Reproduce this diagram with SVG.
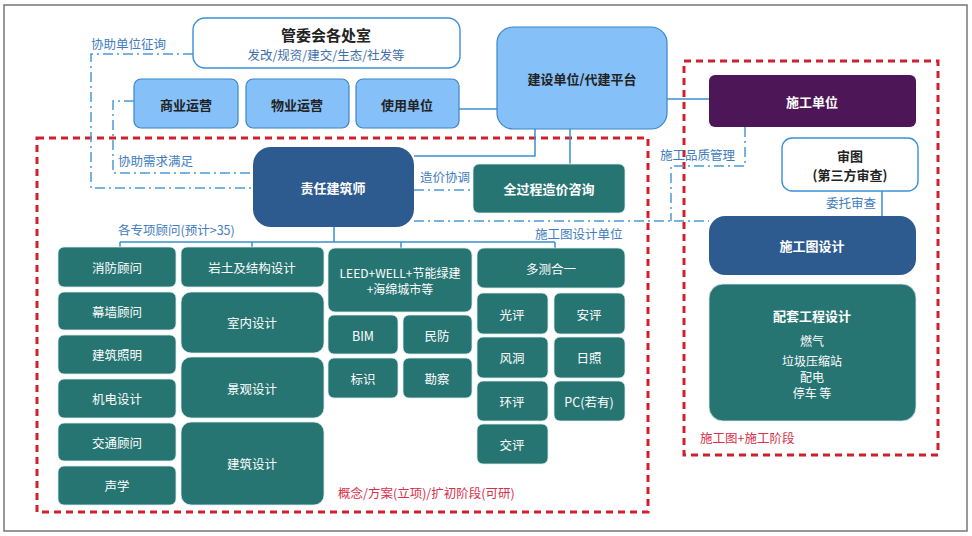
<svg xmlns="http://www.w3.org/2000/svg" width="972" height="536" viewBox="0 0 972 536">
<style>
text{font-family:"Noto Sans CJK SC","Liberation Sans",sans-serif;text-anchor:middle;dominant-baseline:central}
.lb{fill:#85c0f8;stroke:#3a86c8;stroke-width:1.2}
.wh{fill:#fff;stroke:#3a90d8;stroke-width:1.4}
.tl{fill:#277573;stroke:#d8ecec;stroke-width:0.8}
.db{fill:#2e5b8f}
.pu{fill:#4d1757}
.tw{fill:#fff;font-size:12.5px}
.ts{fill:#fff;font-size:12px}
.tb{font-weight:bold;font-size:13px;fill:#222}
.bw{font-weight:bold;font-size:13px;fill:#fff}
.lab{fill:#3f7cc0;font-size:12.5px;text-anchor:start}
.red{fill:#d9304a;font-size:12.5px;text-anchor:start}
.zone{fill:none;stroke:#d0202e;stroke-width:3;stroke-dasharray:7 5}
.sol{fill:none;stroke:#3a90d0;stroke-width:1.5}
.dd{fill:none;stroke:#4a9ad8;stroke-width:1.5;stroke-dasharray:10 4 2 4}
</style>
<rect x="4" y="5" width="963" height="526" fill="#fff" stroke="#777" stroke-width="1.5"/>
<g id="zones">
<rect class="zone" x="37" y="138" width="611" height="374"/>
<rect class="zone" x="684" y="61" width="254" height="394"/>
</g>
<g id="connectors">
<path class="sol" d="M459 109H497"/>
<path class="sol" d="M667 99H709"/>
<path class="sol" d="M535 129V156H414"/>
<path class="sol" d="M570 129V164"/>
<path class="sol" d="M882 191V216"/>
<path class="sol" d="M334 227V242M120 242H555M120 242V254M252 242V254M401 242V254M555 242V254"/>
<path class="dd" d="M193 54H91V188H253"/>
<path class="dd" d="M134 101H113V173H253"/>
<path class="dd" d="M414 190H473"/>
<path class="dd" d="M414 221H709"/>
<path class="dd" d="M745 127V166H671V221"/>
</g>
<g id="labels">
<text class="lab" x="91" y="43">协助单位征询</text>
<text class="lab" x="118" y="160">协助需求满足</text>
<text class="lab" x="420" y="176">造价协调</text>
<text class="lab" x="535" y="233">施工图设计单位</text>
<text class="lab" x="660" y="154">施工品质管理</text>
<text class="lab" x="826" y="202">委托审查</text>
<text class="lab" x="118" y="229">各专项顾问(预计&gt;35)</text>
<text class="red" x="338" y="492">概念/方案(立项)/扩初阶段(可研)</text>
<text class="red" x="700" y="437">施工图+施工阶段</text>
</g>
<g id="n-gwh"><rect class="wh" x="193" y="18" width="267" height="50" rx="12"/><text x="326" y="34" font-size="15" font-weight="bold" fill="#222">管委会各处室</text><text x="326" y="54" font-size="12.5" fill="#3f6fa8">发改/规资/建交/生态/社发等</text></g>
<g id="n-sy"><rect class="lb" x="134" y="79" width="104" height="49" rx="7"/><text class="tb" x="186" y="104">商业运营</text></g>
<g id="n-wy"><rect class="lb" x="246" y="79" width="103" height="49" rx="7"/><text class="tb" x="297" y="104">物业运营</text></g>
<g id="n-syd"><rect class="lb" x="356" y="79" width="103" height="49" rx="7"/><text class="tb" x="407" y="104">使用单位</text></g>
<g id="n-js"><rect class="lb" x="497" y="27" width="170" height="102" rx="16"/><text class="tb" x="582" y="78">建设单位/代建平台</text></g>
<g id="n-sg"><rect class="pu" x="709" y="75" width="207" height="52" rx="6"/><text class="bw" x="812" y="101">施工单位</text></g>
<g id="n-st"><rect class="wh" x="782" y="138" width="136" height="53" rx="10"/><text class="tb" x="850" y="155">审图</text><text class="tb" x="850" y="174">(第三方审查)</text></g>
<g id="n-sgt"><rect class="db" x="709" y="216" width="207" height="59" rx="16"/><text class="bw" x="812" y="245">施工图设计</text></g>
<g id="n-pt"><rect class="tl" x="709" y="284" width="207" height="137" rx="14"/><text class="bw" x="812" y="315">配套工程设计</text><text class="ts" x="812" y="340">燃气</text><text class="ts" x="812" y="360">垃圾压缩站</text><text class="ts" x="812" y="376">配电</text><text class="ts" x="812" y="392">停车 等</text></g>
<g id="n-zr"><rect class="db" x="253" y="147" width="161" height="80" rx="18"/><text class="bw" x="333" y="187">责任建筑师</text></g>
<g id="n-zj"><rect class="tl" x="473" y="164" width="152" height="49" rx="6"/><text class="bw" x="549" y="188">全过程造价咨询</text></g>
<g id="n-xf"><rect class="tl" x="58" y="247" width="118" height="40" rx="6"/><text class="tw" x="117" y="267">消防顾问</text></g>
<g id="n-mq"><rect class="tl" x="58" y="292" width="118" height="38" rx="6"/><text class="tw" x="117" y="311">幕墙顾问</text></g>
<g id="n-zm"><rect class="tl" x="58" y="335" width="118" height="39" rx="6"/><text class="tw" x="117" y="354">建筑照明</text></g>
<g id="n-jd"><rect class="tl" x="58" y="379" width="118" height="39" rx="6"/><text class="tw" x="117" y="398">机电设计</text></g>
<g id="n-jt"><rect class="tl" x="58" y="423" width="118" height="38" rx="6"/><text class="tw" x="117" y="442">交通顾问</text></g>
<g id="n-sx"><rect class="tl" x="58" y="466" width="118" height="39" rx="6"/><text class="tw" x="117" y="485">声学</text></g>
<g id="n-yt"><rect class="tl" x="181" y="247" width="143" height="40" rx="6"/><text class="tw" x="252" y="267">岩土及结构设计</text></g>
<g id="n-sn"><rect class="tl" x="181" y="292" width="143" height="61" rx="10"/><text class="tw" x="252" y="322">室内设计</text></g>
<g id="n-jg"><rect class="tl" x="181" y="357" width="143" height="61" rx="10"/><text class="tw" x="252" y="388">景观设计</text></g>
<g id="n-jz"><rect class="tl" x="181" y="422" width="143" height="83" rx="10"/><text class="tw" x="252" y="463">建筑设计</text></g>
<g id="n-leed"><rect class="tl" x="328" y="248" width="144" height="64" rx="7"/><text class="ts" x="400" y="272">LEED+WELL+节能绿建</text><text class="ts" x="400" y="288">+海绵城市等</text></g>
<g id="n-bim"><rect class="tl" x="328" y="315" width="70" height="39" rx="6"/><text class="tw" x="363" y="335">BIM</text></g>
<g id="n-mf"><rect class="tl" x="403" y="315" width="69" height="39" rx="6"/><text class="tw" x="437" y="335">民防</text></g>
<g id="n-bs"><rect class="tl" x="328" y="358" width="70" height="40" rx="6"/><text class="tw" x="363" y="378">标识</text></g>
<g id="n-kc"><rect class="tl" x="403" y="358" width="69" height="40" rx="6"/><text class="tw" x="437" y="378">勘察</text></g>
<g id="n-dc"><rect class="tl" x="477" y="248" width="148" height="40" rx="7"/><text class="tw" x="551" y="268">多测合一</text></g>
<g id="n-gp"><rect class="tl" x="477" y="293" width="71" height="41" rx="6"/><text class="tw" x="512" y="314">光评</text></g>
<g id="n-ap"><rect class="tl" x="554" y="293" width="71" height="41" rx="6"/><text class="tw" x="589" y="314">安评</text></g>
<g id="n-fd"><rect class="tl" x="477" y="337" width="71" height="41" rx="6"/><text class="tw" x="512" y="357">风洞</text></g>
<g id="n-rz"><rect class="tl" x="554" y="337" width="71" height="41" rx="6"/><text class="tw" x="589" y="357">日照</text></g>
<g id="n-hp"><rect class="tl" x="477" y="381" width="71" height="40" rx="6"/><text class="tw" x="512" y="401">环评</text></g>
<g id="n-pc"><rect class="tl" x="554" y="381" width="71" height="40" rx="6"/><text class="tw" x="589" y="401">PC(若有)</text></g>
<g id="n-jp"><rect class="tl" x="477" y="424" width="71" height="40" rx="6"/><text class="tw" x="512" y="444">交评</text></g>
</svg>
